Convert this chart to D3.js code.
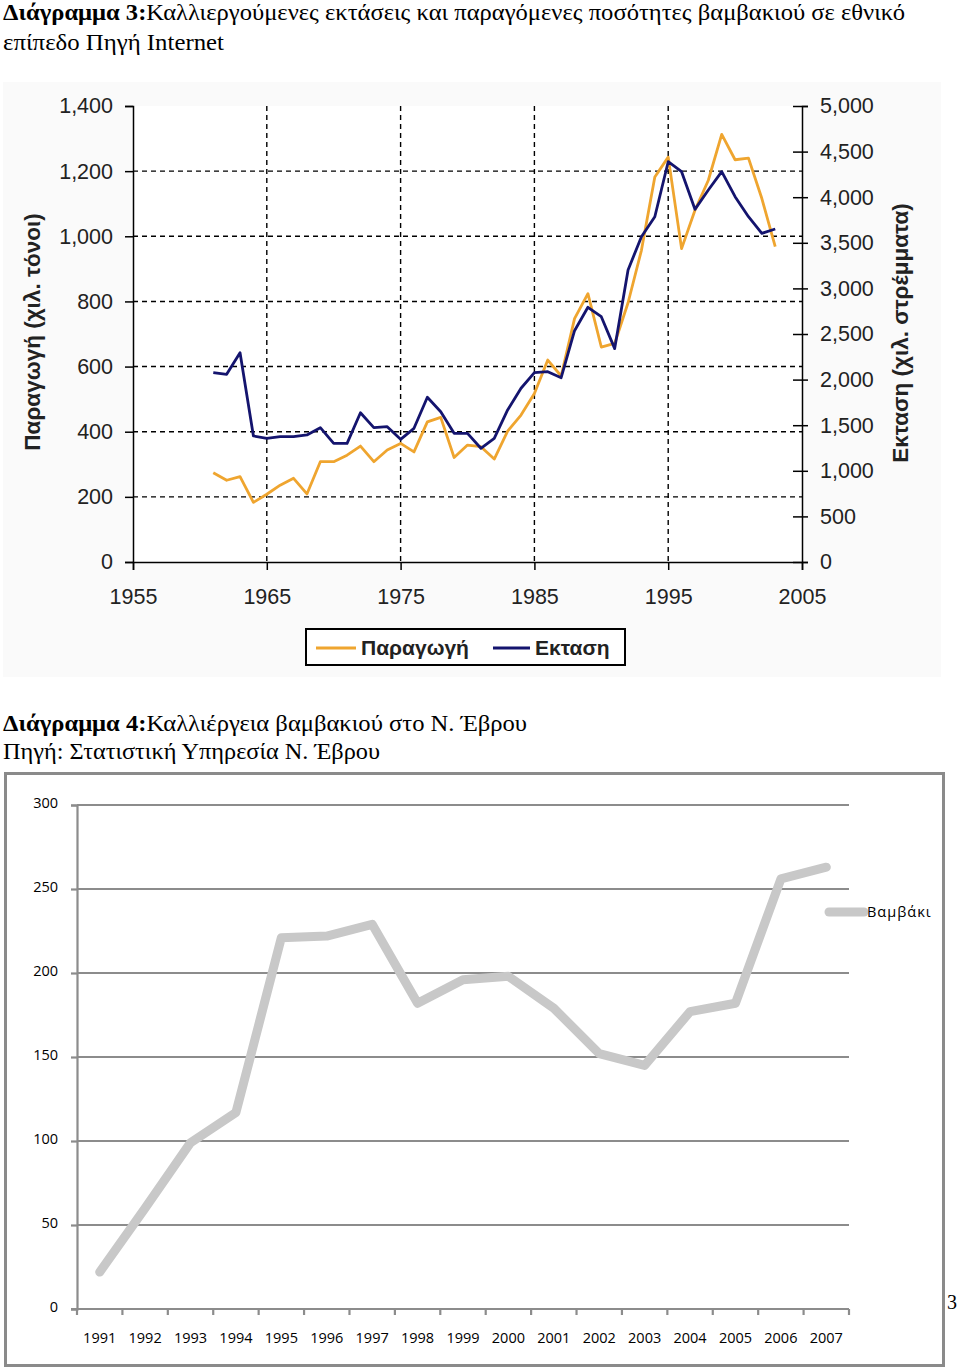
<!DOCTYPE html>
<html>
<head>
<meta charset="utf-8">
<script src="https://cdn.jsdelivr.net/npm/d3@7"></script>
<style>
  html, body { margin: 0; padding: 0; background: #fff; }
  svg { display: block; }
</style>
</head>
<body>
<svg id="page" width="960" height="1370"></svg>
<script>
// ---------- Data: Chart 3 (national level) ----------
const years3 = [1961,1962,1963,1964,1965,1966,1967,1968,1969,1970,1971,1972,1973,1974,1975,1976,1977,1978,1979,1980,1981,1982,1983,1984,1985,1986,1987,1988,1989,1990,1991,1992,1993,1994,1995,1996,1997,1998,1999,2000,2001,2002,2003];
const production = [274,251,262,183,208,236,257,209,308,308,328,356,308,344,364,338,430,444,321,359,354,316,402,451,517,620,571,747,824,660,671,796,957,1182,1243,962,1080,1172,1313,1235,1240,1116,968];
const area = [2076,2058,2295,1382,1356,1374,1374,1393,1473,1301,1301,1637,1473,1484,1345,1466,1806,1648,1411,1411,1247,1356,1667,1905,2076,2087,2021,2536,2793,2690,2340,3202,3567,3786,4389,4280,3867,4079,4280,4006,3786,3604,3651];
const leftTicks = [0,200,400,600,800,1000,1200,1400];
const rightTicks = [0,500,1000,1500,2000,2500,3000,3500,4000,4500,5000];
const xTicks3 = [1955,1965,1975,1985,1995,2005];
const seriesNames3 = ["Παραγωγή","Εκταση"];

// ---------- Data: Chart 4 (Evros) ----------
const years4 = ["1991","1992","1993","1994","1995","1996","1997","1998","1999","2000","2001","2002","2003","2004","2005","2006","2007"];
const cotton = [22,60,99,117,221,222,229,182,196,198,179,152,145,177,182,256,263];
const yTicks4 = [0,50,100,150,200,250,300];
const seriesName4 = "Βαμβάκι";

const svg = d3.select("#page");
const orange = "#efa52f", navy = "#14146e";

// ---------- Titles ----------
function richLine(y, bold, normal, len, size) {
  const t = svg.append("text").attr("x", 3).attr("y", y)
    .attr("font-family", "'Liberation Serif', 'Times New Roman', serif")
    .attr("font-size", size).attr("fill", "#000");
  if (len) t.attr("textLength", len).attr("lengthAdjust", "spacingAndGlyphs");
  if (bold) t.append("tspan").attr("font-weight", "bold").text(bold);
  t.append("tspan").text(normal);
}
richLine(20, "Διάγραμμα 3:", "Καλλιεργούμενες εκτάσεις  και παραγόμενες ποσότητες  βαμβακιού σε εθνικό", 902, 23);
richLine(50, null, "επίπεδο  Πηγή Internet", 221, 23);
richLine(731, "Διάγραμμα 4:", "Καλλιέργεια βαμβακιού στο  Ν. Έβρου", 524, 23);
richLine(759, null, "Πηγή: Στατιστική Υπηρεσία Ν. Έβρου", 377, 23);

// ---------- Chart 3 ----------
svg.append("rect").attr("x", 3).attr("y", 82).attr("width", 938).attr("height", 595).attr("fill", "#fafafa");
svg.append("rect").attr("x", 133).attr("y", 106).attr("width", 669).attr("height", 456).attr("fill", "#ffffff");

const x3 = d3.scaleLinear().domain([1955, 2005]).range([133, 802]);
const yL = d3.scaleLinear().domain([0, 1400]).range([562, 106]);
const yR = d3.scaleLinear().domain([0, 5000]).range([562, 106]);

const g3 = svg.append("g");
g3.selectAll("line.hg").data(leftTicks.filter(d => d > 0 && d < 1400)).join("line")
  .attr("x1", 133).attr("x2", 802).attr("y1", d => yL(d)).attr("y2", d => yL(d))
  .attr("stroke", "#000").attr("stroke-width", 1.4).attr("stroke-dasharray", "5,4");
g3.selectAll("line.vg").data(xTicks3.filter(d => d > 1955 && d < 2005)).join("line")
  .attr("x1", d => x3(d)).attr("x2", d => x3(d)).attr("y1", 106).attr("y2", 562)
  .attr("stroke", "#000").attr("stroke-width", 1.4).attr("stroke-dasharray", "5,4");

const tickFont = "Arial, 'Liberation Sans', sans-serif";
function styleAxis(g) {
  g.select(".domain").attr("stroke", "#000").attr("stroke-width", 1.5);
  g.selectAll(".tick line").attr("stroke", "#000").attr("stroke-width", 1.5);
  g.selectAll(".tick text").attr("font-family", tickFont).attr("font-size", 21.5).attr("fill", "#222");
}
const axL = svg.append("g").attr("transform", "translate(133,0)")
  .call(d3.axisLeft(yL).tickValues(leftTicks).tickFormat(d3.format(",")).tickSizeOuter(0).tickSize(8).tickPadding(12));
styleAxis(axL);
const axR = svg.append("g").attr("transform", "translate(802,0)")
  .call(d3.axisRight(yR).tickValues(rightTicks).tickFormat(d3.format(",")).tickSizeOuter(0).tickSize(6).tickPadding(12));
styleAxis(axR);
axR.selectAll(".tick").append("line").attr("x1", -9).attr("x2", 0).attr("stroke", "#000").attr("stroke-width", 1.5);
const axB = svg.append("g").attr("transform", "translate(0,562)")
  .call(d3.axisBottom(x3).tickValues(xTicks3).tickFormat(d3.format("d")).tickSizeOuter(0).tickSize(8).tickPadding(12));
styleAxis(axB);
axB.selectAll(".tick text").attr("dy", 0).attr("y", 42);

// axis titles
svg.append("text").attr("transform", "translate(40,332) rotate(-90)")
  .attr("text-anchor", "middle").attr("font-family", tickFont).attr("font-weight", "bold")
  .attr("font-size", 22.5).attr("fill", "#222").text("Παραγωγή (χιλ. τόνοι)");
svg.append("text").attr("transform", "translate(908,333) rotate(-90)")
  .attr("text-anchor", "middle").attr("font-family", tickFont).attr("font-weight", "bold")
  .attr("font-size", 22.5).attr("fill", "#222").text("Εκταση (χιλ. στρέμματα)");

// lines
const lineProd = d3.line().x((d, i) => x3(years3[i])).y(d => yL(d));
const lineArea = d3.line().x((d, i) => x3(years3[i])).y(d => yR(d));
svg.append("path").datum(production).attr("d", lineProd).attr("fill", "none")
  .attr("stroke", orange).attr("stroke-width", 2.8).attr("stroke-linejoin", "round");
svg.append("path").datum(area).attr("d", lineArea).attr("fill", "none")
  .attr("stroke", navy).attr("stroke-width", 2.8).attr("stroke-linejoin", "round");

// legend
const lg = svg.append("g");
lg.append("rect").attr("x", 306).attr("y", 629).attr("width", 319).attr("height", 36)
  .attr("fill", "#fff").attr("stroke", "#000").attr("stroke-width", 2);
[[316, 356, 361, orange, seriesNames3[0]], [493, 530, 535, navy, seriesNames3[1]]].forEach(([a, b, tx, c, name]) => {
  lg.append("line").attr("x1", a).attr("x2", b).attr("y1", 648).attr("y2", 648).attr("stroke", c).attr("stroke-width", 3);
  lg.append("text").attr("x", tx).attr("y", 655).attr("font-family", tickFont).attr("font-weight", "bold")
    .attr("font-size", 21).attr("fill", "#222").text(name);
});

// ---------- Chart 4 ----------
svg.append("rect").attr("x", 5.5).attr("y", 773.5).attr("width", 938).attr("height", 592)
  .attr("fill", "#fff").attr("stroke", "#8a8a8a").attr("stroke-width", 3);

const x4 = d3.scaleBand().domain(years4).range([77, 849]).paddingInner(0).paddingOuter(0);
const y4 = d3.scaleLinear().domain([0, 300]).range([1309, 805]);
const gridCol = "#8c8c8c";
const font4 = "'Open Sans', 'DejaVu Sans', sans-serif";

svg.selectAll("line.g4").data(yTicks4.filter(d => d > 0)).join("line")
  .attr("x1", 77).attr("x2", 849).attr("y1", d => y4(d)).attr("y2", d => y4(d))
  .attr("stroke", gridCol).attr("stroke-width", 2.2);

const ay4 = svg.append("g").attr("transform", "translate(77,0)")
  .call(d3.axisLeft(y4).tickValues(yTicks4).tickSizeOuter(0).tickSize(6).tickPadding(13));
ay4.select(".domain").attr("stroke", gridCol).attr("stroke-width", 2.2);
ay4.selectAll(".tick line").attr("stroke", gridCol).attr("stroke-width", 2.2);
ay4.selectAll(".tick text").attr("font-family", font4).attr("font-size", 14.5).attr("fill", "#000").attr("dy", "0.2em");

const ax4 = svg.append("g").attr("transform", "translate(0,1309)");
ax4.append("line").attr("x1", 71).attr("x2", 849).attr("y1", 0).attr("y2", 0).attr("stroke", gridCol).attr("stroke-width", 2.2);
const bounds = years4.map(d => x4(d)).concat([x4(years4[years4.length - 1]) + x4.bandwidth()]);
ax4.selectAll("line.t").data(bounds).join("line")
  .attr("x1", d => d).attr("x2", d => d).attr("y1", 0).attr("y2", 6)
  .attr("stroke", gridCol).attr("stroke-width", 2.2);
ax4.selectAll("text").data(years4).join("text")
  .attr("x", d => x4(d) + x4.bandwidth() / 2).attr("y", 34).attr("text-anchor", "middle")
  .attr("font-family", font4).attr("font-size", 14.5).attr("fill", "#000").text(d => d);

const line4 = d3.line().x((d, i) => x4(years4[i]) + x4.bandwidth() / 2).y(d => y4(d));
svg.append("path").datum(cotton).attr("d", line4).attr("fill", "none")
  .attr("stroke", "#c8c8c8").attr("stroke-width", 9).attr("stroke-linejoin", "round").attr("stroke-linecap", "round");

svg.append("line").attr("x1", 829).attr("x2", 864).attr("y1", 912).attr("y2", 912)
  .attr("stroke", "#c8c8c8").attr("stroke-width", 9).attr("stroke-linecap", "round");
svg.append("text").attr("x", 867).attr("y", 917).attr("font-family", font4).attr("font-size", 14.5)
  .attr("letter-spacing", 1).attr("fill", "#000").text(seriesName4);

// page number
svg.append("text").attr("x", 947).attr("y", 1309).attr("font-family", "'Liberation Serif', serif")
  .attr("font-size", 20).attr("fill", "#000").text("3");
</script>
</body>
</html>
